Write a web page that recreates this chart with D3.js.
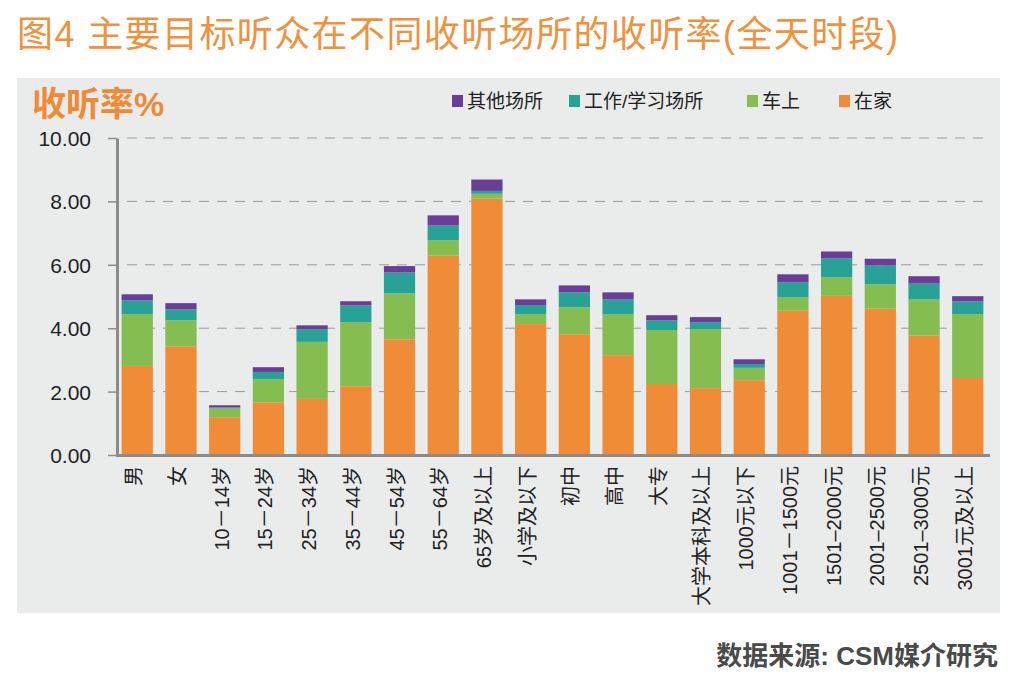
<!DOCTYPE html>
<html>
<head>
<meta charset="UTF-8">
<title>收听率</title>
<script src="https://d3js.org/d3.v7.min.js"></script>
<style>
  body { margin: 0; background: #fff; }
  text { font-family: "Liberation Sans", "Noto Sans CJK SC", sans-serif; }
  .grid line { stroke: #9a9a9a; stroke-dasharray: 10 8; }
</style>
</head>
<body>
<svg width="1024" height="688"></svg>
<script>
// 类别
var categories = ['男', '女', '10－14岁', '15－24岁', '25－34岁', '35－44岁', '45－54岁', '55－64岁',
  '65岁及以上', '小学及以下', '初中', '高中', '大专', '大学本科及以上', '1000元以下',
  '1001－1500元', '1501–2000元', '2001–2500元', '2501–3000元', '3001元及以上'];

// 各场所收听率 (%)
var home  = [2.81, 3.43, 1.19, 1.66, 1.77, 2.17, 3.65, 6.29, 8.09, 4.13, 3.81, 3.15, 2.24, 2.11, 2.36, 4.56, 5.02, 4.62, 3.77, 2.43];
var car   = [1.63, 0.82, 0.28, 0.73, 1.80, 2.02, 1.45, 0.48, 0.15, 0.31, 0.85, 1.29, 1.70, 1.86, 0.39, 0.42, 0.59, 0.77, 1.14, 2.01];
var work  = [0.44, 0.34, 0.03, 0.23, 0.40, 0.53, 0.66, 0.47, 0.09, 0.29, 0.47, 0.47, 0.31, 0.22, 0.12, 0.47, 0.59, 0.59, 0.50, 0.41];
var other = [0.19, 0.20, 0.07, 0.15, 0.12, 0.13, 0.20, 0.32, 0.36, 0.18, 0.22, 0.22, 0.16, 0.16, 0.15, 0.25, 0.22, 0.21, 0.23, 0.16];

var seriesKeys = ['home', 'car', 'work', 'other'];
var seriesNames = { home: '在家', car: '车上', work: '工作/学习场所', other: '其他场所' };
var colors = { home: '#f08c37', car: '#85bd50', work: '#28a196', other: '#6a3d98' };
var yTicks = [0, 2, 4, 6, 8, 10];

var svg = d3.select('svg');

// 标题
svg.append('text')
  .attr('x', 17).attr('y', 47)
  .style('font-size', '36px').style('letter-spacing', '1.4px').style('fill', '#f0913e')
  .text('图4 主要目标听众在不同收听场所的收听率(全天时段)');

// 灰色底板
svg.append('rect')
  .attr('x', 17).attr('y', 78).attr('width', 983).attr('height', 535)
  .attr('fill', '#eaecec');

svg.append('text')
  .attr('x', 32).attr('y', 116)
  .style('font-size', '34px').style('font-weight', 'bold').style('fill', '#ef8a35')
  .text('收听率%');

var margin = { top: 138, left: 117, right: 39, bottom: 233 };
var width = 1024 - margin.left - margin.right,
    height = 688 - margin.top - margin.bottom;

var g = svg.append('g').attr('transform', 'translate(' + margin.left + ',' + margin.top + ')');

var data = categories.map(function (c, i) {
  return { cat: c, home: home[i], car: car[i], work: work[i], other: other[i] };
});

var x = d3.scaleBand().domain(categories).range([-1.5, width + 4.5]).paddingInner(0.285).paddingOuter(0.14);
var y = d3.scaleLinear().domain([0, 10]).range([height, 0]);

// 网格线
g.append('g').attr('class', 'grid')
  .selectAll('line').data(yTicks.slice(1)).enter().append('line')
  .attr('x1', 10).attr('x2', width)
  .attr('y1', function (d) { return y(d); }).attr('y2', function (d) { return y(d); });

var stack = d3.stack().keys(seriesKeys);
var layers = stack(data);

g.selectAll('.layer').data(layers).enter().append('g')
  .attr('class', 'layer')
  .attr('fill', function (d) { return colors[d.key]; })
  .selectAll('rect').data(function (d) { return d; }).enter().append('rect')
  .attr('x', function (d) { return x(d.data.cat); })
  .attr('width', x.bandwidth())
  .attr('y', function (d) { return y(d[1]); })
  .attr('height', function (d) { return y(d[0]) - y(d[1]); });

// Y 轴
var yAxis = g.append('g')
  .call(d3.axisLeft(y).tickValues(yTicks).tickFormat(d3.format('.2f')).tickSize(9).tickSizeOuter(0));
yAxis.select('.domain').attr('stroke', '#8c8c8c').attr('stroke-width', 3);
yAxis.selectAll('.tick line').attr('stroke', '#8c8c8c').attr('stroke-width', 1.5);
yAxis.selectAll('.tick text').attr('x', -26).attr('dy', '0.36em')
  .style('font-size', '21px').style('fill', '#222');

// X 轴
var xAxis = g.append('g').attr('transform', 'translate(0,' + height + ')')
  .call(d3.axisBottom(x).tickSize(0).tickSizeOuter(0));
xAxis.select('.domain').attr('stroke', '#8c8c8c').attr('stroke-width', 3);
xAxis.selectAll('.tick text')
  .attr('transform', 'rotate(-90)')
  .attr('x', -11).attr('y', -3).attr('dy', '0.35em')
  .style('text-anchor', 'end')
  .style('font-size', '20px').style('fill', '#222');

// 图例
var legendItems = [
  { key: 'other', x: 452 },
  { key: 'work', x: 569 },
  { key: 'car', x: 747 },
  { key: 'home', x: 839 }
];
var legend = svg.selectAll('.legend').data(legendItems).enter().append('g')
  .attr('class', 'legend')
  .attr('transform', function (d) { return 'translate(' + d.x + ',95)'; });
legend.append('rect').attr('width', 11).attr('height', 12)
  .attr('fill', function (d) { return colors[d.key]; });
legend.append('text').attr('x', 15).attr('y', 6).attr('dy', '0.36em')
  .style('font-size', '19px').style('fill', '#222')
  .text(function (d) { return seriesNames[d.key]; });

// 数据来源
svg.append('text')
  .attr('x', 998).attr('y', 665)
  .style('text-anchor', 'end')
  .style('font-size', '26px').style('font-weight', 'bold').style('fill', '#4a4a4a')
  .text('数据来源: CSM媒介研究');
</script>
</body>
</html>
